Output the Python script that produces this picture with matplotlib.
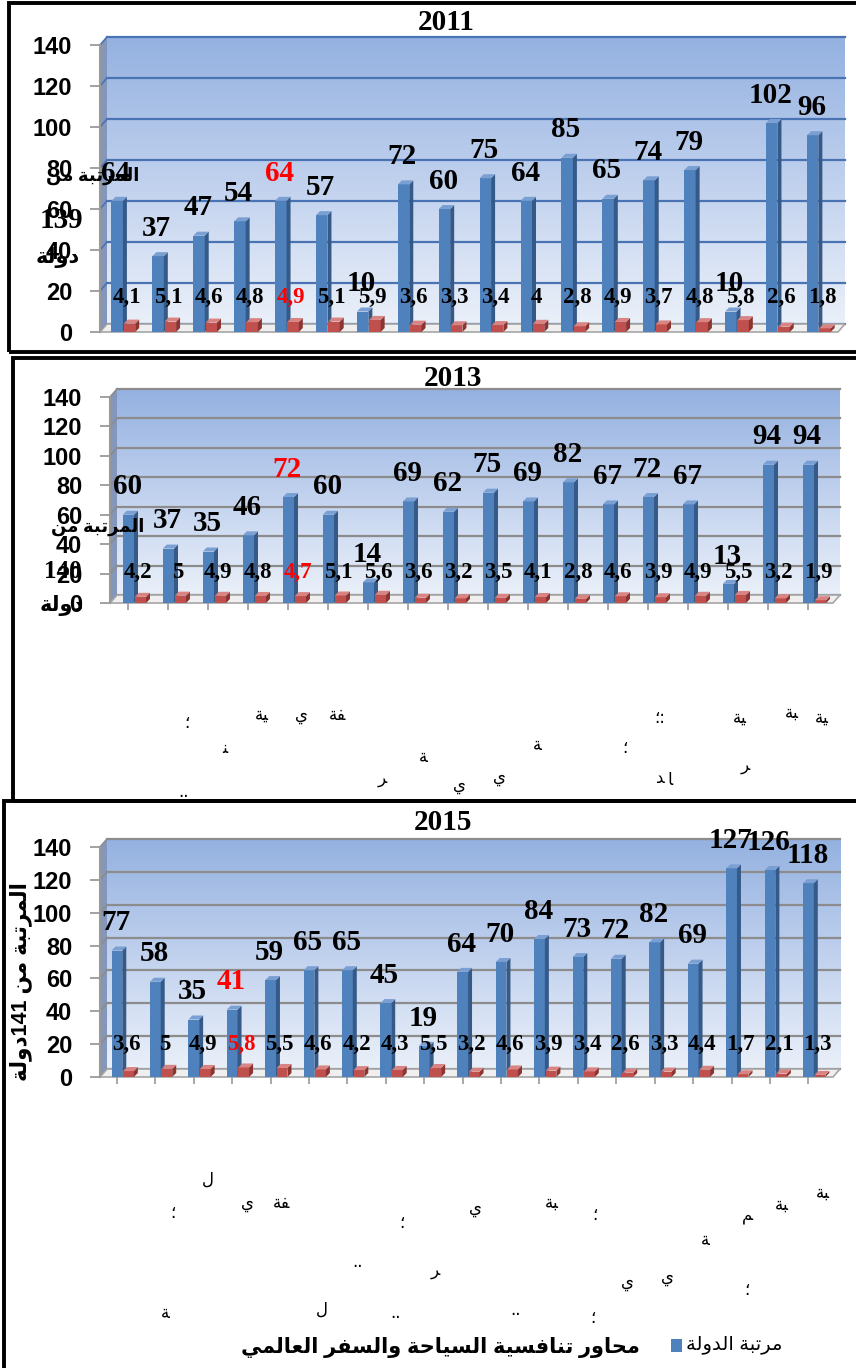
import re
import numpy as np
import matplotlib
matplotlib.use('Agg')
import matplotlib.pyplot as plt
from matplotlib.patches import Polygon, Rectangle

W, H = 856, 1368
DPI = 100

# ranks (blue) and pillar scores (red) for each edition
rank_2011 = [64, 37, 47, 54, 64, 57, 10, 72, 60, 75, 64, 85, 65, 74, 79, 10, 102, 96]
score_2011 = [4.1, 5.1, 4.6, 4.8, 4.9, 5.1, 5.9, 3.6, 3.3, 3.4, 4, 2.8, 4.9, 3.7, 4.8, 5.8, 2.6, 1.8]
rank_2013 = [60, 37, 35, 46, 72, 60, 14, 69, 62, 75, 69, 82, 67, 72, 67, 13, 94, 94]
score_2013 = [4.2, 5, 4.9, 4.8, 4.7, 5.1, 5.6, 3.6, 3.2, 3.5, 4.1, 2.8, 4.6, 3.9, 4.9, 5.5, 3.2, 1.9]
rank_2015 = [77, 58, 35, 41, 59, 65, 65, 45, 19, 64, 70, 84, 73, 72, 82, 69, 127, 126, 118]
score_2015 = [3.6, 5, 4.9, 5.8, 5.5, 4.6, 4.2, 4.3, 5.5, 3.2, 4.6, 3.9, 3.4, 2.6, 3.3, 4.4, 1.7, 2.1, 1.3]
highlight_2011 = 4
highlight_2013 = 4
highlight_2015 = 3
y_ticks = [0, 20, 40, 60, 80, 100, 120, 140]

BLUE, BLUE_SIDE, BLUE_TOP = '#4f81bd', '#365a88', '#7a9fd2'
RED, RED_SIDE, RED_TOP = '#c0504d', '#8b3533', '#d98482'
SERIF = ['Liberation Serif', 'DejaVu Sans']
SANS = ['Liberation Sans', 'DejaVu Sans']

# Arabic contextual forms: isolated, final, initial, medial
FORMS = {
    'ا': (0xFE8D, 0xFE8E, None, None), 'ب': (0xFE8F, 0xFE90, 0xFE91, 0xFE92),
    'ة': (0xFE93, 0xFE94, None, None), 'ت': (0xFE95, 0xFE96, 0xFE97, 0xFE98),
    'ح': (0xFEA1, 0xFEA2, 0xFEA3, 0xFEA4), 'د': (0xFEA9, 0xFEAA, None, None),
    'ر': (0xFEAD, 0xFEAE, None, None), 'س': (0xFEB1, 0xFEB2, 0xFEB3, 0xFEB4),
    'ع': (0xFEC9, 0xFECA, 0xFECB, 0xFECC), 'ف': (0xFED1, 0xFED2, 0xFED3, 0xFED4),
    'ل': (0xFEDD, 0xFEDE, 0xFEDF, 0xFEE0), 'م': (0xFEE1, 0xFEE2, 0xFEE3, 0xFEE4),
    'ن': (0xFEE5, 0xFEE6, 0xFEE7, 0xFEE8), 'و': (0xFEED, 0xFEEE, None, None),
    'ي': (0xFEF1, 0xFEF2, 0xFEF3, 0xFEF4),
}


def ar(text):
    out = []
    for i, ch in enumerate(text):
        if ch not in FORMS:
            out.append(ch)
            continue
        prev = text[i - 1] if i > 0 else ''
        nxt = text[i + 1] if i + 1 < len(text) else ''
        jp = prev in FORMS and FORMS[prev][2] is not None
        jn = FORMS[ch][2] is not None and nxt in FORMS
        iso, fin, ini, med = FORMS[ch]
        out.append(chr(med if jp and jn else fin if jp else ini if jn else iso))
    vis = ''.join(reversed(out))
    return re.sub(r'[0-9]+', lambda m: m.group(0)[::-1], vis)


def fmt(v):
    return f'{v:g}'.replace('.', ',')


fig = plt.figure(figsize=(W / DPI, H / DPI), dpi=DPI)


def box(l, t, r, b):
    return [l / W, 1 - b / H, (r - l) / W, (b - t) / H]


def ftext(x, y, s, **kw):
    return fig.text(x / W, 1 - y / H, s, **kw)


def frame(l, t, r, b):
    fig.add_artist(Rectangle((l / W, 1 - b / H), (r - l) / W, (b - t) / H,
                             transform=fig.transFigure, fill=False,
                             ec='black', lw=2.8, zorder=10))


def draw_panel(rect, xlim, ranks, scores, hi, grid_color, red_y, xticks):
    ax = fig.add_axes(box(*rect))
    x0, x1 = xlim
    n = len(ranks)
    x = np.arange(n)
    bw = 0.28
    ppx = (rect[2] - rect[0]) / (x1 - x0)
    ppy = (rect[3] - rect[1]) / 140
    wx, wy = 7 / ppx, 8 / ppy      # back wall depth
    dx, dy = 4 / ppx, 4 / ppy      # bar depth

    # back wall with vertical gradient
    grad = np.linspace(0, 1, 256).reshape(-1, 1)
    cmap = matplotlib.colors.LinearSegmentedColormap.from_list(
        'wall', ['#eaf0f9', '#c0d1ee', '#94b1e0'])
    ax.imshow(grad, extent=(x0 + wx, x1 + wx, wy, 140 + wy), origin='lower',
              aspect='auto', cmap=cmap, zorder=0, clip_on=False)
    ax.add_patch(Polygon([(x0, 0), (x0 + wx, wy), (x0 + wx, 140 + wy), (x0, 140)],
                         closed=True, fc='#8496ba', ec='none', zorder=0.5,
                         clip_on=False))
    for t in y_ticks:
        ax.plot([x0 + wx, x1 + wx], [t + wy, t + wy], color=grid_color, lw=1.6,
                zorder=1, clip_on=False)
        ax.plot([x0, x0 + wx], [t, t + wy], color=grid_color, lw=1.2,
                zorder=1, clip_on=False)
    ax.add_patch(Polygon([(x0, 0), (x1, 0), (x1 + wx, wy), (x0 + wx, wy)],
                         closed=True, fc='#efefef', ec='#a6a6a6', lw=1.2,
                         zorder=1.5, clip_on=False))

    def bars3d(left, vals, front, side, top, z):
        ax.bar(left, vals, width=bw, align='edge', color=front, zorder=z)
        for xl, h in zip(left, vals):
            xr = xl + bw
            ax.add_patch(Polygon([(xr, 0), (xr + dx, dy), (xr + dx, h + dy), (xr, h)],
                                 closed=True, fc=side, ec='none', zorder=z))
            ax.add_patch(Polygon([(xl, h), (xr, h), (xr + dx, h + dy), (xl + dx, h + dy)],
                                 closed=True, fc=top, ec='none', zorder=z))

    bars3d(x - bw, ranks, BLUE, BLUE_SIDE, BLUE_TOP, 3)
    bars3d(x + 0.02, scores, RED, RED_SIDE, RED_TOP, 4)

    for i, (r, s) in enumerate(zip(ranks, scores)):
        c = 'red' if i == hi else 'black'
        ax.annotate(str(r), (i - 0.17, r), xytext=(0, 20), textcoords='offset points',
                    ha='center', va='center', fontsize=21, fontweight='bold',
                    family=SERIF, color=c, zorder=6, annotation_clip=False)
        ax.text(i + 0.1, red_y, fmt(s), ha='center', va='center', fontsize=16.5,
                fontweight='bold', family=SERIF, color=c, zorder=6)

    ax.set_xlim(x0, x1)
    ax.set_ylim(0, 140)
    ax.set_yticks(y_ticks)
    for sp in ['top', 'right', 'bottom']:
        ax.spines[sp].set_visible(False)
    ax.spines['left'].set_color('#9a9a9a')
    ax.spines['left'].set_linewidth(1.5)
    ax.tick_params(axis='y', length=7, width=1.3, color='#9a9a9a', pad=13,
                   labelsize=17)
    for lab in ax.get_yticklabels():
        lab.set_fontweight('bold')
        lab.set_family('Liberation Sans')
    if xticks:
        ax.set_xticks(x - 0.14)
        ax.tick_params(axis='x', length=5, width=1.2, color='#9a9a9a',
                       labelbottom=False)
    else:
        ax.set_xticks([])
    ax.patch.set_alpha(0)
    return ax


# frames around the three editions
frame(9, 3, 880, 352)
frame(13, 358, 880, 801)
frame(4, 801, 880, 1390)

draw_panel((100, 45, 838, 332), (-0.56, 17.48), rank_2011, score_2011,
           highlight_2011, '#4a73b3', 17, False)
draw_panel((110, 397, 833, 603), (-0.6, 17.475), rank_2013, score_2013,
           highlight_2013, '#8c8c8c', 21, True)
draw_panel((100, 847, 833, 1077), (-0.58, 18.5), rank_2015, score_2015,
           highlight_2015, '#8c8c8c', 19.5, True)

# titles
for (tx, ty, year) in [(446, 23, '2011'), (453, 379, '2013'), (443, 823, '2015')]:
    ftext(tx, ty, year, ha='center', va='center', fontsize=21, fontweight='bold',
          family=SERIF, zorder=12)

# axis captions
ftext(93, 176, ar('المرتبة من'), ha='center', va='center', fontsize=13,
      fontweight='bold', family=SERIF)
ftext(61, 221, '139', ha='center', va='center', fontsize=21, fontweight='bold',
      family=SERIF)
ftext(58, 257, ar('دولة'), ha='center', va='center', fontsize=15,
      fontweight='bold', family=SERIF)
ftext(98, 527, ar('المرتبة من'), ha='center', va='center', fontsize=13,
      fontweight='bold', family=SERIF)
ftext(63, 572, '140', ha='center', va='center', fontsize=18, fontweight='bold',
      family=SERIF)
ftext(62, 606, ar('دولة'), ha='center', va='center', fontsize=15,
      fontweight='bold', family=SERIF)
ftext(21, 982, ar('المرتبة من 141دولة'), ha='center', va='center', fontsize=15.5,
      fontweight='bold', family=SANS, rotation=90)

# leftover category-label glyphs below the lower two charts
YA, BA, FA = '\uFE94\uFEF4', '\uFE94\uFE92', '\uFE94\uFED4'
fragments = [
    (262, 715, YA), (302, 715, '\uFEF1'), (338, 715, FA), (187, 723, '\u061B'),
    (225, 748, '\uFEE8'), (183, 792, '..'), (382, 778, '\uFEAE'), (423, 757, '\uFE94'),
    (822, 718, YA), (792, 713, BA), (740, 718, YA), (660, 718, '\u061B:'),
    (537, 745, '\uFE94'), (625, 748, '\u061B'), (745, 765, '\uFEAE'),
    (670, 780, '\uFE8E'), (660, 778, '\uFEAA'), (500, 777, '\uFEF1'), (460, 785, '\uFEF1'),
    (208, 1180, '\uFEDD'), (247, 1203, '\uFEF1'), (282, 1203, FA), (475, 1208, '\uFEF1'),
    (173, 1213, '\u061B'), (402, 1223, '\u061B'), (435, 1270, '\uFEAE'), (358, 1262, '..'),
    (165, 1313, '\uFE94'), (322, 1310, '\uFEDD'), (395, 1313, '..'),
    (552, 1203, BA), (595, 1215, '\u061B'), (705, 1240, '\uFE94'), (628, 1282, '\uFEF1'),
    (667, 1277, '\uFEF1'), (747, 1290, '\u061B'), (747, 1215, '\uFEE2'),
    (782, 1205, BA), (823, 1193, BA), (515, 1310, '..'), (593, 1318, '\u061B'),
]
for fx, fy, s in fragments:
    ftext(fx, fy, s, ha='center', va='center', fontsize=12, family='DejaVu Sans')

# legend
fig.add_artist(Rectangle((671 / W, 1 - 1352 / H), 11 / W, 13 / H,
                         transform=fig.transFigure, fc=BLUE, ec='none'))
ftext(686, 1345, ar('مرتبة الدولة'), ha='left', va='center', fontsize=14,
      family=SANS)
ftext(640, 1348, ar('محاور تنافسية السياحة والسفر العالمي'), ha='right',
      va='center', fontsize=15, fontweight='bold', family=SANS)

fig.savefig('out.png', dpi=DPI, facecolor='white')
